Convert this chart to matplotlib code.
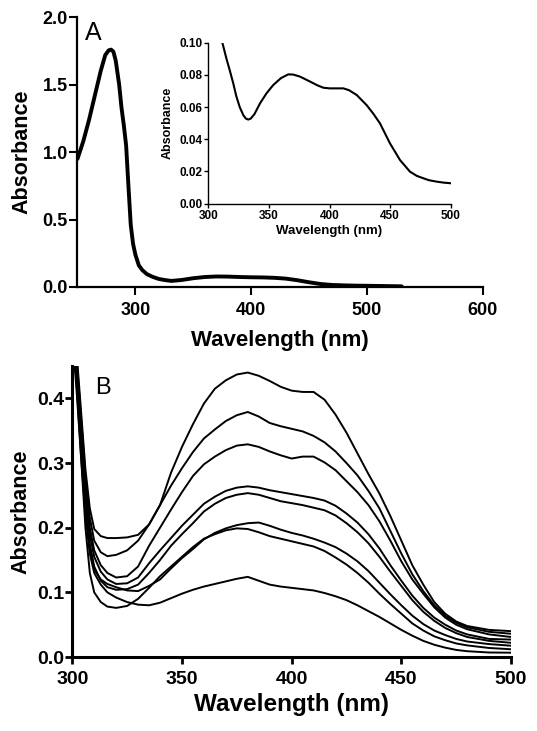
import numpy as np
import matplotlib
matplotlib.use("Agg")
import matplotlib.pyplot as plt

plt.rcParams["font.family"] = ["Liberation Sans", "DejaVu Sans"]

# panel A, main spectrum
wl_a = [250, 255, 260, 265, 270, 274, 277, 279, 281, 283, 286, 288, 290, 292, 294,
        296, 298, 300, 303, 306, 310, 315, 320, 325, 331, 340, 350, 360, 370,
        380, 390, 400, 410, 420, 430, 440, 450, 460, 470, 480, 490, 500, 515, 530]
abs_a = [0.95, 1.08, 1.24, 1.42, 1.60, 1.72, 1.755, 1.76, 1.745, 1.68, 1.50, 1.33,
         1.20, 1.05, 0.75, 0.46, 0.32, 0.24, 0.16, 0.125, 0.095, 0.075, 0.060,
         0.052, 0.045, 0.052, 0.065, 0.074, 0.078, 0.077, 0.074, 0.072, 0.071,
         0.068, 0.062, 0.050, 0.035, 0.022, 0.015, 0.012, 0.010, 0.009, 0.007, 0.005]

# panel A, inset (zoom of 300-500 nm)
wl_in = [311.6, 315, 318, 320.6, 323, 326, 329, 331, 333, 335, 338, 342.7, 348,
         353.6, 360, 366, 370, 375.7, 384, 390, 394.9, 400, 405, 411.4, 416,
         422.4, 430.6, 436, 441.6, 449.9, 458.2, 466.4, 472, 477.4, 482, 488.4,
         494, 500]
abs_in = [0.100, 0.090, 0.082, 0.0747, 0.067, 0.0598, 0.0548, 0.0528, 0.0522,
          0.0528, 0.0555, 0.0623, 0.0685, 0.0737, 0.0780, 0.0803, 0.0802,
          0.0789, 0.0758, 0.0735, 0.0720, 0.0716, 0.0716, 0.0716, 0.0705,
          0.0675, 0.0612, 0.0560, 0.0499, 0.0374, 0.0270, 0.0198, 0.0172,
          0.0157, 0.0145, 0.0136, 0.0130, 0.0126]

# panel B, titration spectra
wl_b = [300, 302, 304, 306, 308, 310, 313, 316, 320, 325, 330, 335, 340, 345,
        350, 355, 360, 365, 370, 375, 380, 385, 390, 395, 400, 405, 410, 415,
        420, 425, 430, 435, 440, 445, 450, 455, 460, 465, 470, 475, 480, 490, 500]
spec_1 = [0.56, 0.47, 0.38, 0.29, 0.23, 0.198, 0.187, 0.184, 0.184, 0.185, 0.189,
          0.205, 0.235, 0.285, 0.325, 0.36, 0.392, 0.415, 0.428, 0.437, 0.44,
          0.435, 0.427, 0.418, 0.412, 0.41, 0.41, 0.398, 0.375, 0.347, 0.315,
          0.283, 0.253, 0.218, 0.18, 0.142, 0.112, 0.085, 0.067, 0.055, 0.048,
          0.042, 0.04]
spec_2 = [0.55, 0.46, 0.37, 0.28, 0.215, 0.18, 0.162, 0.156, 0.158, 0.165, 0.18,
          0.205, 0.235, 0.265, 0.292, 0.317, 0.338, 0.352, 0.365, 0.374, 0.379,
          0.372, 0.362, 0.357, 0.353, 0.349, 0.342, 0.332, 0.318, 0.3, 0.281,
          0.257, 0.23, 0.195, 0.16, 0.128, 0.102, 0.08, 0.064, 0.053, 0.046,
          0.039, 0.036]
spec_3 = [0.54, 0.45, 0.36, 0.27, 0.2, 0.165, 0.142, 0.13, 0.123, 0.125, 0.14,
          0.172, 0.2, 0.228, 0.255, 0.28, 0.298, 0.31, 0.32, 0.327, 0.329, 0.325,
          0.318, 0.312, 0.307, 0.31, 0.31, 0.301, 0.289, 0.272, 0.255, 0.235,
          0.21, 0.18, 0.148, 0.12, 0.098, 0.077, 0.061, 0.05, 0.043, 0.035, 0.031]
spec_4 = [0.53, 0.44, 0.35, 0.26, 0.19, 0.155, 0.132, 0.12, 0.113, 0.114, 0.123,
          0.145, 0.165, 0.184, 0.203, 0.22, 0.237, 0.248, 0.257, 0.262, 0.264,
          0.262, 0.258, 0.255, 0.252, 0.249, 0.246, 0.242, 0.234, 0.222, 0.208,
          0.19, 0.168, 0.142, 0.118, 0.095, 0.076, 0.061, 0.05, 0.041, 0.035,
          0.028, 0.027]
spec_5 = [0.53, 0.44, 0.35, 0.25, 0.175, 0.14, 0.118, 0.108, 0.104, 0.105, 0.112,
          0.13, 0.15, 0.172, 0.19, 0.207, 0.225, 0.237, 0.246, 0.251, 0.2535,
          0.251, 0.246, 0.241, 0.238, 0.235, 0.231, 0.227, 0.219, 0.207, 0.193,
          0.176, 0.155, 0.132, 0.11, 0.088, 0.07, 0.056, 0.045, 0.037, 0.031,
          0.025, 0.022]
spec_6 = [0.52, 0.43, 0.34, 0.24, 0.165, 0.135, 0.12, 0.113, 0.108, 0.103, 0.102,
          0.11, 0.12, 0.137, 0.153, 0.167, 0.182, 0.192, 0.199, 0.204, 0.207,
          0.208, 0.203, 0.197, 0.192, 0.188, 0.183, 0.177, 0.17, 0.16, 0.148,
          0.133, 0.115, 0.097, 0.08, 0.064, 0.051, 0.041, 0.034, 0.028, 0.024,
          0.02, 0.0175]
spec_7 = [0.51, 0.42, 0.31, 0.2, 0.13, 0.1, 0.085, 0.078, 0.076, 0.079, 0.09,
          0.107, 0.125, 0.14, 0.155, 0.17, 0.183, 0.19, 0.196, 0.199, 0.198,
          0.193, 0.187, 0.183, 0.179, 0.175, 0.171, 0.164, 0.154, 0.143, 0.13,
          0.115, 0.098, 0.082, 0.067, 0.052, 0.041, 0.032, 0.026, 0.021, 0.018,
          0.014, 0.012]
spec_8 = [0.5, 0.41, 0.31, 0.22, 0.16, 0.13, 0.112, 0.1, 0.092, 0.085, 0.081,
          0.08, 0.084, 0.091, 0.098, 0.104, 0.109, 0.113, 0.117, 0.121, 0.124,
          0.118, 0.112, 0.109, 0.107, 0.105, 0.103, 0.099, 0.094, 0.088, 0.08,
          0.071, 0.062, 0.052, 0.042, 0.033, 0.025, 0.019, 0.0145, 0.011, 0.009,
          0.007, 0.0067]
specs_b = [spec_1, spec_2, spec_3, spec_4, spec_5, spec_6, spec_7, spec_8]

fig = plt.figure(figsize=(5.37, 7.31), dpi=100)


def style_axes(ax, lw, tlen, tw, tsize, pad_x, pad_y):
    for s in ["top", "right"]:
        ax.spines[s].set_visible(False)
    for s in ["left", "bottom"]:
        ax.spines[s].set_linewidth(lw)
    ax.tick_params(direction="out", length=tlen, width=tw, labelsize=tsize)
    ax.tick_params(axis="x", pad=pad_x)
    ax.tick_params(axis="y", pad=pad_y)
    for lab in ax.get_xticklabels() + ax.get_yticklabels():
        lab.set_fontweight("bold")


# ---- panel A ----
ax_a = fig.add_axes([0.1443, 0.6074, 0.7546, 0.369])
ax_a.plot(wl_a, abs_a, color="black", linewidth=2.8, solid_capstyle="round",
          solid_joinstyle="round")
ax_a.set_xlim(250, 600)
ax_a.set_ylim(0, 2.0)
ax_a.set_xticks([300, 400, 500, 600])
ax_a.set_yticks([0.0, 0.5, 1.0, 1.5, 2.0])
ax_a.set_yticklabels(["0.0", "0.5", "1.0", "1.5", "2.0"])
style_axes(ax_a, 1.6, 6, 1.5, 13, 5, 1)
ax_a.set_xlabel("Wavelength (nm)", fontsize=16, fontweight="bold", labelpad=8)
ax_a.set_ylabel("Absorbance", fontsize=15.5, fontweight="bold", labelpad=7.5)

# inset
ax_in = fig.add_axes([0.3879, 0.7216, 0.4514, 0.22])
ax_in.plot(wl_in, abs_in, color="black", linewidth=1.5, solid_joinstyle="round")
ax_in.set_xlim(300, 500)
ax_in.set_ylim(0, 0.10)
ax_in.set_xticks([300, 350, 400, 450, 500])
ax_in.set_yticks([0.0, 0.02, 0.04, 0.06, 0.08, 0.10])
ax_in.set_yticklabels(["0.00", "0.02", "0.04", "0.06", "0.08", "0.10"])
style_axes(ax_in, 1.0, 3, 1.0, 8.5, 2, 1)
ax_in.set_xlabel("Wavelength (nm)", fontsize=9.5, fontweight="bold", labelpad=2)
ax_in.set_ylabel("Absorbance", fontsize=9, fontweight="bold", labelpad=4)

# ---- panel B ----
ax_b = fig.add_axes([0.1346, 0.1012, 0.817, 0.398])
for spec in specs_b:
    ax_b.plot(wl_b, spec, color="black", linewidth=1.4, solid_joinstyle="round")
ax_b.set_xlim(300, 500)
ax_b.set_ylim(0, 0.45)
ax_b.set_xticks([300, 350, 400, 450, 500])
ax_b.set_yticks([0.0, 0.1, 0.2, 0.3, 0.4])
style_axes(ax_b, 2.2, 5, 2.0, 14, 5, 1)
ax_b.set_xlabel("Wavelength (nm)", fontsize=17.5, fontweight="bold", labelpad=4)
ax_b.set_ylabel("Absorbance", fontsize=15.5, fontweight="bold", labelpad=4)

fig.text(85 / 537, 1 - 39.5 / 731, "A", fontsize=18)
fig.text(95 / 537, 1 - 393.5 / 731, "B", fontsize=17)

fig.savefig("out.png", dpi=100)
